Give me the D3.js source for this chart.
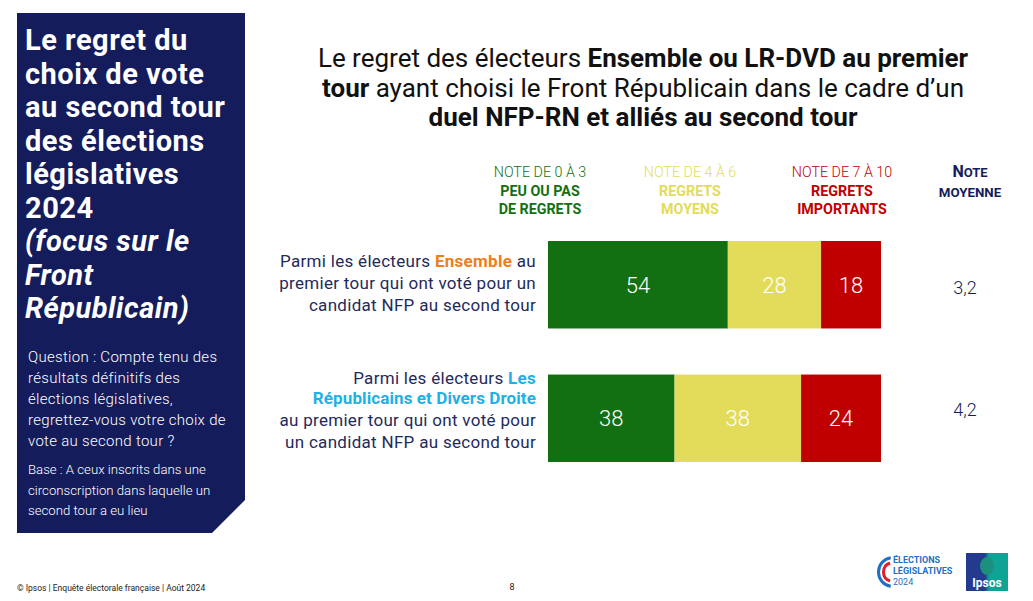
<!DOCTYPE html>
<html><head><meta charset="utf-8">
<script src="https://cdn.jsdelivr.net/npm/d3@7"></script>
<style>body{margin:0;background:#fff}svg{display:block;font-family:Roboto,"Noto Sans",sans-serif}</style>
</head><body><svg id="c" width="1033" height="601"></svg>
<script>
const categories = ["Ensemble", "LR-DVD"];
const seriesNames = ["Note de 0 à 3", "Note de 4 à 6", "Note de 7 à 10"];
const peuRegrets = [54, 38];
const regretsMoyens = [28, 38];
const regretsImportants = [18, 24];
const noteMoyenne = ["3,2", "4,2"];

const svg = d3.select("#c");
const navy = "#151c5c";
const colors = ["#137012", "#e2dc5a", "#c00000"];

// Left panel
svg.append("path").attr("d","M17,13 H245 V500 L212,533 H17 Z").attr("fill","#151c5c");
const tl = ["Le regret du","choix de vote","au second tour","des élections","législatives","2024"];
const ti = ["(focus sur le","Front","Républicain)"];
tl.concat(ti).forEach((t,i)=>{
  svg.append("text").attr("x",25).attr("y",50+i*33.5).attr("fill","#fff")
    .attr("font-size",29).attr("letter-spacing",0.5).attr("font-weight",700).attr("font-style", i>=6?"italic":"normal").text(t);
});
["Question  : Compte tenu des","résultats définitifs des","élections législatives,","regrettez-vous votre choix de","vote au second tour ?"].forEach((t,i)=>{
  svg.append("text").attr("x",28).attr("y",362+i*21).attr("fill","#fff").attr("font-size",15).attr("letter-spacing",0.3).attr("font-weight",300).text(t);
});
["Base : A ceux inscrits dans une","circonscription dans laquelle un","second tour a eu lieu"].forEach((t,i)=>{
  svg.append("text").attr("x",28).attr("y",474+i*20.5).attr("fill","#fff").attr("font-size",13.2).attr("font-weight",300).text(t);
});

// Title
function rich(x,y,parts,size,anchor,fill,ls){
  const t = svg.append("text").attr("x",x).attr("y",y).attr("font-size",size).attr("text-anchor",anchor).attr("fill",fill).attr("letter-spacing",ls||0);
  parts.forEach(p=>{ t.append("tspan").attr("font-weight",p.b?700:400).attr("fill",p.c||fill).text(p.t); });
  return t;
}
rich(643,67,[{t:"Le regret des électeurs "},{t:"Ensemble ou LR-DVD au premier",b:1}],26,"middle","#111");
rich(643,97,[{t:"tour",b:1},{t:" ayant choisi le Front Républicain dans le cadre d’un"}],26,"middle","#111");
rich(643,126,[{t:"duel NFP-RN et alliés au second tour",b:1}],26,"middle","#111");

// Legend headers
const hdr = [
  {x:540,c:colors[0],l:["NOTE DE 0 À 3","PEU OU PAS","DE REGRETS"]},
  {x:690,c:colors[1],l:["NOTE DE 4 À 6","REGRETS","MOYENS"]},
  {x:842,c:colors[2],l:["NOTE DE 7 À 10","REGRETS","IMPORTANTS"]}
];
hdr.forEach(h=>h.l.forEach((t,i)=>{
  svg.append("text").attr("x",h.x).attr("y",177+i*18.5).attr("text-anchor","middle").attr("fill",h.c)
    .attr("font-size",14.3).attr("font-weight",i?700:300).text(t);
}));
const nt = svg.append("text").attr("x",970).attr("y",177).attr("text-anchor","middle").attr("fill",navy).attr("font-weight",700);
nt.append("tspan").attr("font-size",16).text("N");
nt.append("tspan").attr("font-size",13).text("OTE");
svg.append("text").attr("x",970).attr("y",197).attr("text-anchor","middle").attr("fill",navy).attr("font-weight",700).attr("font-size",13.3).text("MOYENNE");

// Bars
const x = d3.scaleLinear().domain([0,100]).range([548,881]);
const y = d3.scaleBand().domain(categories).range([241,462]).paddingInner(0.345).paddingOuter(0);
const data = categories.map((c,i)=>({cat:c, vals:[peuRegrets[i],regretsMoyens[i],regretsImportants[i]]}));
const stacked = d3.stack().keys([0,1,2]).value((d,k)=>d.vals[k])(data);
stacked.forEach((layer,k)=>{
  const g = svg.append("g");
  g.selectAll("rect").data(layer).join("rect")
    .attr("x",d=>x(d[0])).attr("width",d=>x(d[1])-x(d[0]))
    .attr("y",d=>y(d.data.cat)).attr("height",y.bandwidth()).attr("fill",colors[k]);
  g.selectAll("text").data(layer).join("text")
    .attr("x",d=>(x(d[0])+x(d[1]))/2).attr("y",d=>y(d.data.cat)+y.bandwidth()/2+8)
    .attr("text-anchor","middle").attr("fill","#fff").attr("font-size",22).attr("font-weight",300)
    .text(d=>d.data.vals[k]);
});
// Note moyenne
categories.forEach((c,i)=>{
  svg.append("text").attr("x",965).attr("y",y(c)+y.bandwidth()/2 + (i?-2:9)).attr("text-anchor","middle")
    .attr("fill",navy).attr("font-size",18).attr("font-weight",300).text(noteMoyenne[i]);
});

// Row labels
const lab = "#1f2a5c";
rich(536,267,[{t:"Parmi les électeurs "},{t:"Ensemble",b:1,c:"#f07d1a"},{t:" au"}],17,"end",lab,0.3);
rich(536,289,[{t:"premier tour qui ont voté pour un"}],17,"end",lab,0.3);
rich(536,311,[{t:"candidat NFP au second tour"}],17,"end",lab,0.3);
rich(536,384,[{t:"Parmi les électeurs "},{t:"Les",b:1,c:"#1fb0e6"}],17,"end",lab,0.3);
rich(536,404,[{t:"Républicains et Divers Droite",b:1,c:"#1fb0e6"}],17,"end",lab,0.1);
rich(536,426,[{t:"au premier tour qui ont voté pour"}],17,"end",lab,0.3);
rich(536,448,[{t:"un candidat NFP au second tour"}],17,"end",lab,0.3);

// Footer
svg.append("text").attr("x",17).attr("y",591).attr("font-size",8.5).attr("fill","#222").text("© Ipsos | Enquête électorale française | Août 2024");
svg.append("text").attr("x",512).attr("y",590).attr("font-size",9).attr("fill","#222").attr("text-anchor","middle").text("8");

// Elections logo
const arc1 = d3.arc().innerRadius(13).outerRadius(16).startAngle(-Math.PI*0.95).endAngle(-Math.PI*0.05);
svg.append("path").attr("transform","translate(893,572)").attr("d",arc1).attr("fill","#1f6fc5");
const arc2 = d3.arc().innerRadius(8).outerRadius(11).startAngle(-Math.PI*0.9).endAngle(-Math.PI*0.1);
svg.append("path").attr("transform","translate(893,572)").attr("d",arc2).attr("fill","#e0202a");
[["ÉLECTIONS",563,700],["LÉGISLATIVES",574,700],["2024",585,400]].forEach(([t,yy,w])=>{
  svg.append("text").attr("x",893).attr("y",yy).attr("font-size",9).attr("font-weight",w).attr("fill","#1f6fc5").text(t);
});
// Ipsos logo
const grad = svg.append("defs").append("linearGradient").attr("id","ig").attr("x1",0).attr("x2",1);
grad.append("stop").attr("offset","0.45").attr("stop-color","#233a8f");
grad.append("stop").attr("offset","0.55").attr("stop-color","#0fa396");
svg.append("rect").attr("x",966).attr("y",553).attr("width",42).attr("height",38).attr("fill","url(#ig)");
svg.append("ellipse").attr("cx",987).attr("cy",566).attr("rx",7).attr("ry",9).attr("fill","#1d8f7d");
svg.append("text").attr("x",987).attr("y",587).attr("text-anchor","middle").attr("font-size",12).attr("font-weight",700).attr("fill","#fff").text("Ipsos");
</script></body></html>
